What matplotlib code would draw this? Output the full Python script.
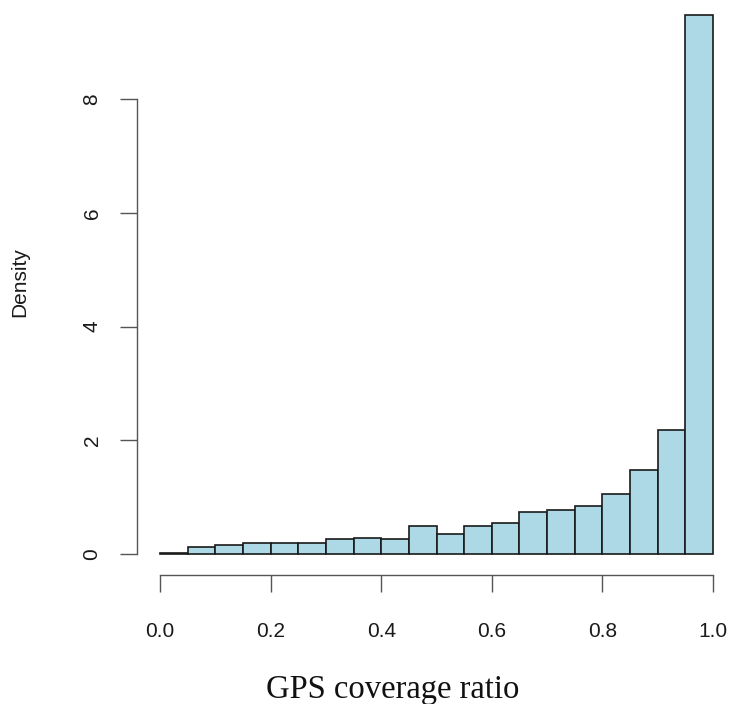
import matplotlib
matplotlib.use("Agg")
import matplotlib.pyplot as plt
import numpy as np

# histogram of GPS coverage ratio, 20 bins of width 0.05
bin_edges = [0.00, 0.05, 0.10, 0.15, 0.20, 0.25, 0.30, 0.35, 0.40, 0.45, 0.50,
             0.55, 0.60, 0.65, 0.70, 0.75, 0.80, 0.85, 0.90, 0.95, 1.00]
density = [0.02, 0.12, 0.16, 0.19, 0.20, 0.19, 0.26, 0.29, 0.26, 0.50,
           0.35, 0.49, 0.54, 0.74, 0.77, 0.84, 1.06, 1.48, 2.18, 9.47]
xticks = [0.0, 0.2, 0.4, 0.6, 0.8, 1.0]
xticklabels = ["0.0", "0.2", "0.4", "0.6", "0.8", "1.0"]
yticks = [0, 2, 4, 6, 8]

W, H = 730, 704
fig = plt.figure(figsize=(W / 100, H / 100), dpi=100)

# axes box in pixels: left 137 .. right 730, bottom 575 .. top 0
left_px, right_px, top_px, bot_px = 137, 730, 0, 575
ax = fig.add_axes([left_px / W, 1 - bot_px / H, (right_px - left_px) / W, (bot_px - top_px) / H])

x0, x1 = 160, 713          # pixel positions of 0 and 1
y0, y8 = 554, 99           # pixel positions of 0 and 8
sx = x1 - x0
sy = (y0 - y8) / 8
ax.set_xlim(-(x0 - left_px) / sx, 1 + (right_px - x1) / sx)
ax.set_ylim(-(bot_px - y0) / sy, y0 / sy)

edges = np.array(bin_edges)
ax.bar(edges[:-1], density, width=np.diff(edges), align="edge",
       color="#add8e6", edgecolor="#1a1a1a", linewidth=1.2)

for s in ["top", "right"]:
    ax.spines[s].set_visible(False)
ax.spines["left"].set_bounds(0, 8)
ax.spines["bottom"].set_bounds(0, 1)
for s in ["left", "bottom"]:
    ax.spines[s].set_color("#555555")
    ax.spines[s].set_linewidth(1.0)

tick_font = {"family": ["Liberation Sans", "DejaVu Sans"], "size": 15}
ax.set_xticks(xticks)
ax.set_xticklabels(xticklabels, fontdict=tick_font, color="#1a1a1a")
ax.set_yticks(yticks)
ax.set_yticklabels([str(v) for v in yticks], fontdict=tick_font, color="#1a1a1a",
                   rotation=90, va="center")
ax.tick_params(axis="both", direction="out", length=12.5, width=1.0, color="#555555")
ax.tick_params(axis="x", pad=21)
ax.tick_params(axis="y", pad=13)

fig.text(20 / W, 1 - 282 / H, "Density", rotation=90, ha="center", va="center",
         family=["Liberation Sans", "DejaVu Sans"], fontsize=15, color="#1a1a1a")
fig.text(393 / W, 1 - 698 / H, "GPS coverage ratio", ha="center", va="baseline",
         family=["Liberation Serif", "DejaVu Serif"], fontsize=23.5, color="#111111")

fig.savefig("out.png", dpi=100)
